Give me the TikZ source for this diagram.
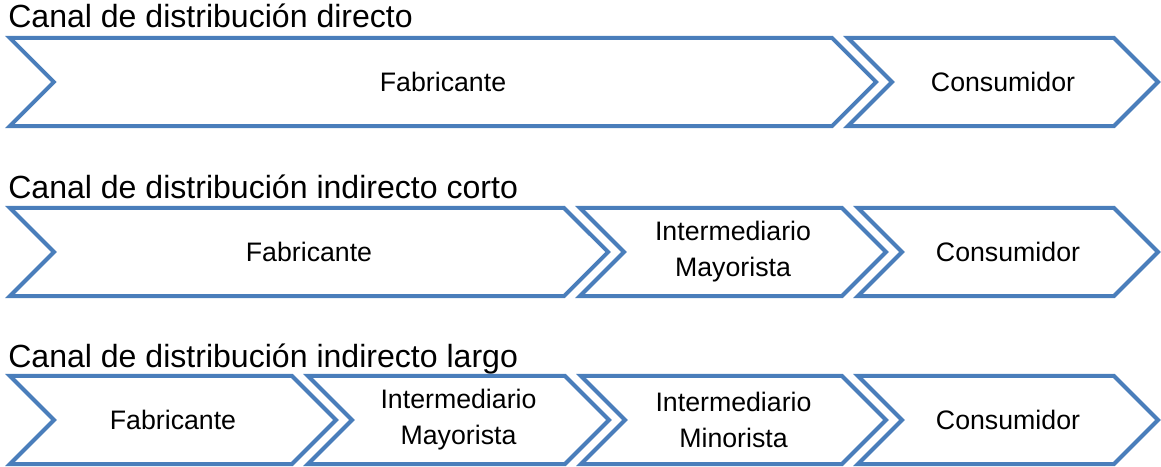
\documentclass[tikz,border=0pt]{standalone}
\usepackage{fontspec}
\setmainfont{Liberation Sans}
\usetikzlibrary{shapes.symbols}
\definecolor{chevblue}{RGB}{74,126,187}

\begin{document}
\begin{tikzpicture}[x=0.025cm,y=-0.025cm,
  chev node/.style={signal,signal from=west,signal to=east,signal pointer angle=90,
    draw=chevblue,line width=2.85pt,minimum height=2.2cm,inner sep=0pt,align=center,
    font=\fontsize{19}{25.6}\selectfont},
  title node/.style={anchor=base west,inner sep=0pt,font=\fontsize{22.8}{27}\selectfont}]

  \useasboundingbox (0,0) rectangle (1161,466);

  % canal directo
  \node[title node] (t1) at (8,28) {Canal de distribución directo};
  \node[chev node,minimum width=21.65cm] (d-fab) at (443,82) {Fabricante};
  \node[chev node,minimum width=7.75cm] (d-con) at (1003,82) {Consumidor};

  % canal indirecto corto
  \node[title node] (t2) at (8,198) {Canal de distribución indirecto corto};
  \node[chev node,minimum width=14.95cm] (c-fab) at (309,252) {Fabricante};
  \node[chev node,minimum width=7.65cm] (c-may) at (733,252) {Intermediario\\Mayorista};
  \node[chev node,minimum width=7.5cm] (c-con) at (1008,252) {Consumidor};

  % canal indirecto largo
  \node[title node] (t3) at (8,367) {Canal de distribución indirecto largo};
  \node[chev node,minimum width=8.15cm] (l-fab) at (173,420) {Fabricante};
  \node[chev node,minimum width=7.525cm] (l-may) at (458.5,420) {Intermediario\\Mayorista};
  \node[chev node,minimum width=7.625cm] (l-min) at (733.5,420) {Intermediario\\Minorista};
  \node[chev node,minimum width=7.5cm] (l-con) at (1008,420) {Consumidor};

\end{tikzpicture}
\end{document}
